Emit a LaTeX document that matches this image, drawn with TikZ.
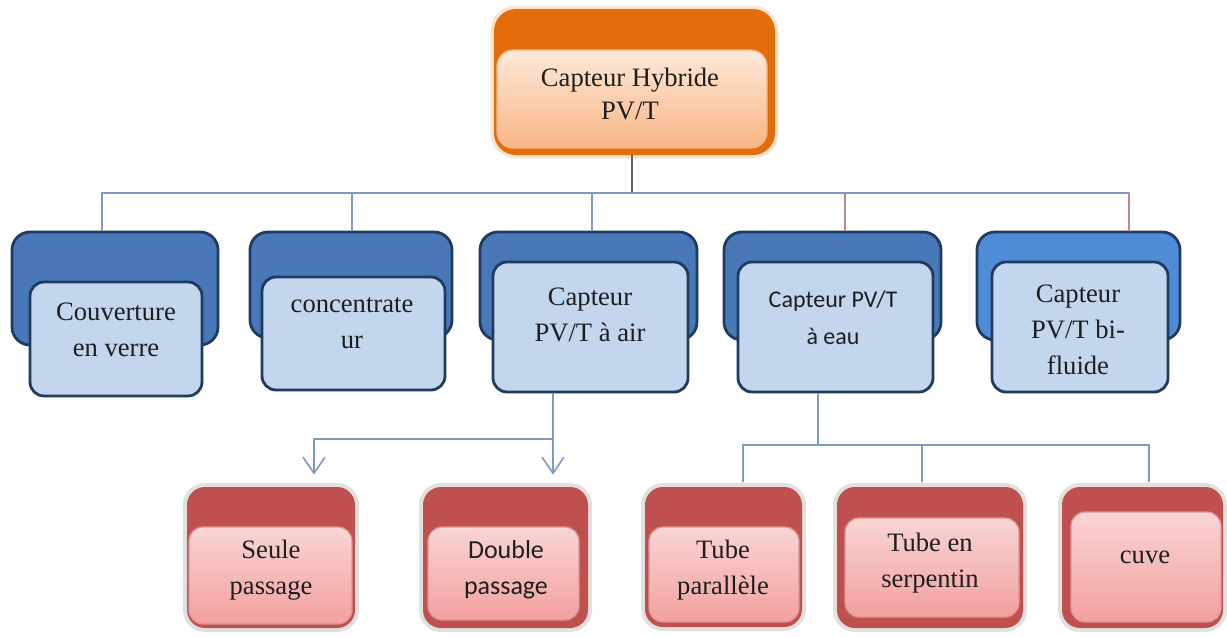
\documentclass[tikz,border=0pt]{standalone}
\usepackage{fontspec}
\setmainfont{Liberation Serif}
\newfontfamily\calibri{Carlito}
\usetikzlibrary{fit,arrows.meta}

\definecolor{bleu}{HTML}{4878B8}
\definecolor{bleucinq}{HTML}{4F8CD8}
\definecolor{bleuclair}{HTML}{C3D6EE}
\definecolor{bleubord}{HTML}{1F3B5E}
\definecolor{rouge}{HTML}{C0504D}
\definecolor{roseh}{HTML}{F8D5D4}
\definecolor{roseb}{HTML}{F2A09F}
\definecolor{orange}{HTML}{E46C0A}
\definecolor{pecheh}{HTML}{FDE9DA}
\definecolor{pecheb}{HTML}{F8B584}
\definecolor{liens}{HTML}{7F9AC0}
\definecolor{liensombre}{HTML}{6B5B6B}
\definecolor{lienrouge}{HTML}{B88A96}
\definecolor{texte}{HTML}{1E1E1E}

\begin{document}
\begin{tikzpicture}[line cap=round,line join=round,x=0.5pt,y=-0.5pt,
  fond/.style={rectangle,rounded corners=9pt,inner sep=0pt},
  bleufond/.style={fond,fill=bleu,draw=bleubord,line width=1.4pt},
  bleuint/.style={fond,rounded corners=7pt,fill=bleuclair,draw=bleubord,line width=1.4pt},
  rougefond/.style={fond,fill=rouge,preaction={draw=black!12,line width=4pt}},
  rougeint/.style={fond,rounded corners=7pt,top color=roseh,bottom color=roseb,draw=rouge!60,line width=0.6pt},
  orangefond/.style={fond,rounded corners=11pt,fill=orange,preaction={draw=orange!18,line width=3.5pt}},
  orangeint/.style={fond,rounded corners=8pt,top color=pecheh,bottom color=pecheb,draw=orange!50,line width=0.6pt},
  txt/.style={align=center,text=texte,font=\fontsize{13.3}{18}\selectfont},
  txtsans/.style={align=center,text=texte,font=\calibri\fontsize{12}{18.5}\selectfont},
  lien/.style={draw=liens,line width=0.8pt},
  fleche/.style={-{Straight Barb[length=8pt,width=11pt]},shorten >=6pt}]

\fill[white] (0,0) rectangle (1227,637);

% racine
\node[orangefond,fit={(494,9) (775,155)}] (hyb) {};
\node[orangeint,fit={(497,50) (767,148)}] (hybin) {};
\node[txt,font=\fontsize{13.3}{16.5}\selectfont] (hybt) at (630,94) {Capteur Hybride\\PV/T};

% niveau 2
\node[bleufond,fit={(12,232) (218,345)}] (verre) {};
\node[bleuint,fit={(30,282) (202,396)}] (verrein) {};
\node[bleufond,fit={(250,232) (452,338)}] (conc) {};
\node[bleuint,fit={(262,277) (445,390)}] (concin) {};
\node[bleufond,fit={(480,232) (697,340)}] (air) {};
\node[bleuint,fit={(493,262) (688,392)}] (airin) {};
\node[bleufond,fit={(724,232) (941,340)}] (eau) {};
\node[bleuint,fit={(738,262) (933,392)}] (eauin) {};
\node[bleufond,fill=bleucinq,fit={(977,232) (1180,340)}] (bifl) {};
\node[bleuint,fit={(992,262) (1168,392)}] (biflin) {};

\node[txt] (verret) at (116,330) {Couverture\\en verre};
\node[txt] (conct) at (352,323) {concentrate\\ur};
\node[txt] (airt) at (590,315) {Capteur\\PV/T à air};
\node[txtsans] (eaut) at (833,318) {Capteur PV/T\\à eau};
\node[txt] (biflt) at (1078,330) {Capteur\\PV/T bi-\\fluide};

% niveau 3
\node[rougefond,fit={(187,487) (355,628)}] (seule) {};
\node[rougeint,fit={(189,527) (352,624)}] (seulein) {};
\node[rougefond,fit={(423,487) (588,628)}] (dbl) {};
\node[rougeint,fit={(428,527) (579,620)}] (dblin) {};
\node[rougefond,fit={(645,487) (802,627)}] (para) {};
\node[rougeint,fit={(649,527) (799,622)}] (parain) {};
\node[rougefond,fit={(837,487) (1023,628)}] (serp) {};
\node[rougeint,fit={(845,518) (1019,617)}] (serpin) {};
\node[rougefond,fit={(1062,487) (1223,628)}] (cuve) {};
\node[rougeint,fit={(1071,512) (1221,622)}] (cuvein) {};

\node[txt] (seulet) at (271,570) {Seule\\passage};
\node[txt,font=\calibri\fontsize{13}{18}\selectfont] (dblt) at (506,570) {Double\\passage};
\node[txt] (parat) at (723,570) {Tube\\parallèle};
\node[txt] (serpt) at (930,563) {Tube en\\serpentin};
\node[txt] (cuvet) at (1145,557) {cuve};

% liaisons
\coordinate (barre) at (632,193);
\coordinate (d1) at (102,193);
\coordinate (d2) at (352,193);
\coordinate (d3) at (592,193);
\coordinate (d4) at (845,193);
\coordinate (d5) at (1129,193);
\draw[draw=liensombre,line width=0.8pt] (barre |- hyb.south) -- (barre);
\draw[lien] (d1) -- (d5);
\foreach \d/\b in {d1/verre,d2/conc,d3/air}
  \draw[lien] (\d) -- (\d |- \b.north);
\foreach \d/\b in {d4/eau,d5/bifl}
  \draw[draw=lienrouge,line width=0.8pt] (\d) -- (\d |- \b.north);

\coordinate (ga) at (553,439);
\coordinate (gb) at (314,439);
\draw[lien] (ga |- airin.south) -- (ga) -- (gb);
\draw[lien,fleche] (gb) -- (gb |- seule.north);
\draw[lien,fleche] (ga) -- (ga |- dbl.north);

\coordinate (dr) at (818,445);
\coordinate (r1) at (743,445);
\coordinate (r2) at (922,445);
\coordinate (r3) at (1149,445);
\draw[lien] (dr |- eauin.south) -- (dr);
\draw[lien] (r1) -- (r3);
\foreach \r/\b in {r1/para,r2/serp,r3/cuve}
  \draw[lien,shorten >=2.5pt] (\r) -- (\r |- \b.north);

\end{tikzpicture}
\end{document}
